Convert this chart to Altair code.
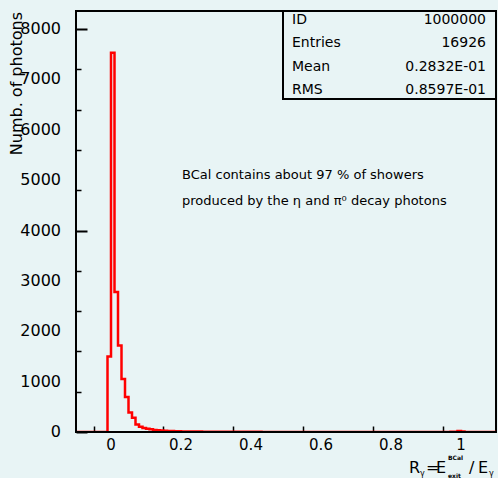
import altair as alt
import pandas as pd

# ---------------- data ----------------
bin_lo = -0.1
bin_width = 0.01
counts = [
    0, 0, 0, 0, 0, 0, 0, 0, 0,                      # -0.10 .. -0.02
    1500, 7530, 2780, 1720, 1050, 695, 385, 285, 150, 105, 80, 65, 53,  # -0.01 .. 0.11
    42, 36, 30, 25, 22, 19, 16, 14,                 # 0.12 .. 0.19
    12, 11, 10, 9, 9, 8, 7, 7, 6, 6,                # 0.20 .. 0.29
    5, 5, 5, 4, 4, 4, 4, 3, 3, 3,                   # 0.30 .. 0.39
    3, 3, 3, 2, 2, 2, 2, 2, 2, 2,                   # 0.40 .. 0.49
    2, 2, 2, 2, 1, 1, 2, 1, 1, 1,                   # 0.50 .. 0.59
    1, 1, 1, 1, 1, 1, 1, 1, 1, 1,                   # 0.60 .. 0.69
    1, 1, 1, 1, 0, 1, 1, 0, 1, 1,                   # 0.70 .. 0.79
    1, 0, 1, 1, 0, 1, 0, 1, 1, 1,                   # 0.80 .. 0.89
    1, 1, 1, 1, 1, 2, 2, 3, 5, 20,                  # 0.90 .. 0.99
    8, 0, 0, 0, 0, 0, 0, 0, 0, 0,                   # 1.00 .. 1.09
]
x_tick_values = [0, 0.2, 0.4, 0.6, 0.8, 1.0]
x_tick_text = ["0", "0.2", "0.4", "0.6", "0.8", "1"]
x_all_ticks = [-0.05, 0, 0.05, 0.1, 0.15, 0.2, 0.25, 0.3, 0.35, 0.4, 0.45, 0.5,
               0.55, 0.6, 0.65, 0.7, 0.75, 0.8, 0.85, 0.9, 0.95, 1.0, 1.05]
y_tick_values = [0, 1000, 2000, 3000, 4000, 5000, 6000, 7000, 8000]
y_tick_text = ["0", "1000", "2000", "3000", "4000", "5000", "6000", "7000", "8000"]
y_all_ticks = list(range(0, 8201, 200))
stat_names = ["ID", "Entries", "Mean", "RMS"]
stat_values = ["1000000", "16926", "0.2832E-01", "0.8597E-01"]
note_lines = ["BCal contains about 97 % of showers",
              "produced by the \u03b7 and \u03c0\u2070 decay photons"]
y_title = "Numb. of photons"

X_DOMAIN = [-0.1, 1.1]
Y_DOMAIN = [0, 8360]
W, H = 420, 421
BG = "#e8f4f5"
FONT = "DejaVu Sans"

# step-line table built from the bin counts
edges = [round(bin_lo + i * bin_width, 4) for i in range(len(counts) + 1)]
hist = pd.DataFrame({"x": edges, "n": counts + [counts[-1]]})

xs = alt.Scale(domain=X_DOMAIN, nice=False, zero=False)
ys = alt.Scale(domain=Y_DOMAIN, nice=False, zero=False)

# axes used only for the inward ticks: the y axis sits on the right side and is
# shifted onto the left edge, so its ticks point into the plot (same for x).
y_tick_axis = alt.Axis(
    orient="right", offset=-W, values=y_all_ticks, labels=False, domain=False,
    grid=False, title=None, ticks=True, tickColor="black",
    tickSize={"condition": {"test": "datum.value % 1000 === 0", "value": 11}, "value": 5},
    tickWidth={"condition": {"test": "datum.value % 1000 === 0", "value": 2}, "value": 1.5},
)
x_tick_axis = alt.Axis(
    orient="top", offset=-H, values=x_all_ticks, labels=False, domain=False,
    grid=False, title=None, ticks=True, tickColor="black",
    tickSize={"condition": {"test": "abs(datum.value * 5 - round(datum.value * 5)) < 0.001",
                            "value": 11}, "value": 6},
    tickWidth={"condition": {"test": "abs(datum.value * 5 - round(datum.value * 5)) < 0.001",
                             "value": 2}, "value": 1.5},
)

one = alt.Data(values=[{"k": 0}])

hist_line = alt.Chart(hist).mark_line(
    interpolate="step-after", color="#ff0000", strokeWidth=2.5, clip=True
).encode(
    x=alt.X("x:Q", scale=xs, axis=x_tick_axis),
    y=alt.Y("n:Q", scale=ys, axis=y_tick_axis),
)

def vdf(vals, texts):
    return alt.Data(values=[{"v": v, "t": t} for v, t in zip(vals, texts)])

# tick labels
ylabels = alt.Chart(vdf(y_tick_values, y_tick_text)).mark_text(
    align="right", baseline="middle", fontSize=16, font=FONT, color="black"
).encode(y=alt.Y("v:Q", scale=ys), x=alt.value(-15), text="t:N")
xlabels = alt.Chart(vdf(x_tick_values, x_tick_text)).mark_text(
    align="center", baseline="top", fontSize=15, font=FONT, color="black"
).encode(x=alt.X("v:Q", scale=xs), y=alt.value(H + 6), text="t:N")

# axis lines
yline = alt.Chart(one).mark_rule(color="black", strokeWidth=2).encode(
    x=alt.value(0), y=alt.value(0), y2=alt.value(H))
xline = alt.Chart(one).mark_rule(color="black", strokeWidth=2).encode(
    x=alt.value(0), x2=alt.value(W), y=alt.value(H))

# stats box
box = alt.Chart(one).mark_rect(fill=BG, stroke="black", strokeWidth=2).encode(
    x=alt.value(207), x2=alt.value(W), y=alt.value(0), y2=alt.value(88))
stat_layers = []
for i, (nm, val) in enumerate(zip(stat_names, stat_values)):
    yy = 9 + i * 23.3
    stat_layers.append(alt.Chart(one).mark_text(
        align="left", baseline="middle", fontSize=14, font=FONT, color="black"
    ).encode(x=alt.value(216), y=alt.value(yy), text=alt.value(nm)))
    stat_layers.append(alt.Chart(one).mark_text(
        align="right", baseline="middle", fontSize=14, font=FONT, color="black"
    ).encode(x=alt.value(410), y=alt.value(yy), text=alt.value(val)))

# annotation
note_layers = []
for i, line in enumerate(note_lines):
    note_layers.append(alt.Chart(one).mark_text(
        align="left", baseline="middle", fontSize=13, font=FONT, color="black"
    ).encode(x=alt.value(106), y=alt.value(164 + i * 26), text=alt.value(line)))

# y title (rotated)
ytitle = alt.Chart(one).mark_text(
    angle=270, align="right", baseline="middle", fontSize=16, font=FONT, color="black"
).encode(x=alt.value(-59), y=alt.value(1), text=alt.value(y_title))

# x title with sub/superscripts
def txt(s, x, y, size, weight="normal"):
    return alt.Chart(one).mark_text(
        align="left", baseline="alphabetic", fontSize=size, font=FONT,
        color="black", fontWeight=weight
    ).encode(x=alt.value(x), y=alt.value(y), text=alt.value(s))

xtitle = [
    txt("R", 333, 462, 16),
    txt("\u03b3", 344, 465, 8),
    txt("=", 350, 462, 16),
    txt("E", 360, 462, 16),
    txt("BCal", 372, 449, 6, "bold"),
    txt("exit", 372, 467, 6, "bold"),
    txt("/", 393, 462, 16),
    txt("E", 402, 462, 16),
    txt("\u03b3", 413, 465, 8),
]

chart = alt.layer(
    hist_line, ylabels, xlabels, yline, xline,
    box, *stat_layers, *note_layers, ytitle, *xtitle
).properties(
    width=W, height=H,
    padding={"left": 76, "top": 11, "right": 2, "bottom": 46},
    autosize=alt.AutoSizeParams(type="none"),
    background=BG,
).configure_view(
    stroke="black", strokeWidth=2, fill=BG
)

chart.save("out.html", embed_options={"renderer": "svg", "actions": False})
